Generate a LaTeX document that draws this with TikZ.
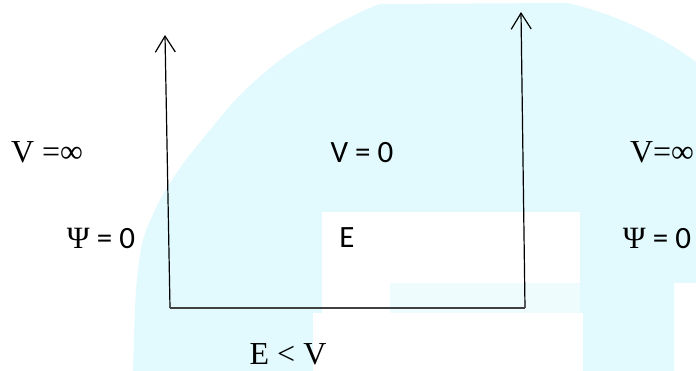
\documentclass[tikz,border=0pt]{standalone}
\usepackage{fontspec}
\setmainfont{Liberation Serif}
\newfontfamily\calibri{Carlito}
\usepackage{tikz}
\usetikzlibrary{arrows.meta}

\definecolor{markcyan}{RGB}{226,250,253}
\definecolor{markpale}{RGB}{238,252,254}

\tikzset{
    wall/.style={line width=1.2pt, -{Straight Barb[length=16pt,width=20pt,line width=1.2pt]}},
    floor/.style={line width=1.8pt, black!75},
    serif/.style={inner sep=0pt, font=\fontsize{32}{38}\selectfont},
    sans/.style={inner sep=0pt, font=\calibri\fontsize{31}{36}\selectfont}
}

\newcommand{\psizero}{\fontsize{31}{36}\selectfont Ψ\calibri\fontsize{31}{36}\selectfont{} = 0}

\begin{document}
\begin{tikzpicture}[x=1pt,y=-1pt]

    \useasboundingbox (0,0) rectangle (696,371);

    % Watermark in the background
    \fill[markcyan] plot[smooth] coordinates {(133,371) (136,290) (143,240) (160,200)
        (182,165) (210,130) (240,95) (280,60) (330,28) (365,10) (380,4)}
        -- (567,3)
        .. controls (610,12) and (660,35) .. (696,62)
        -- (696,283) -- (674,283) -- (674,371) -- cycle;
    \fill[white] (322,212) rectangle (580,283);
    \fill[white] (313,313) rectangle (583,371);
    \fill[white] (322,283) rectangle (390,313);
    \fill[markpale] (390,283) rectangle (580,313);

    % Walls and floor of the well
    \coordinate (tipL) at (165,35);
    \coordinate (baseL) at (170,308);
    \coordinate (baseR) at (525,308);
    \coordinate (tipR) at (521,12);

    \draw[wall] (baseL) -- (tipL);
    \draw[wall] (baseR) -- (tipR);
    \draw[floor] (baseL) -- (baseR);

    % Labels
    \node[serif] (vinfL) at (47,152) {V =∞};
    \node[serif] (vinfR) at (662,152) {V=∞};
    \node[sans] (vzero) at (362,153) {V = 0};
    \node[sans] (energy) at (347,238) {E};
    \node[inner sep=0pt] (psiL) at (101,238) {\psizero};
    \node[inner sep=0pt] (psiR) at (657,238) {\psizero};
    \node[serif] (elessv) at (288,354) {E < V};

\end{tikzpicture}
\end{document}
